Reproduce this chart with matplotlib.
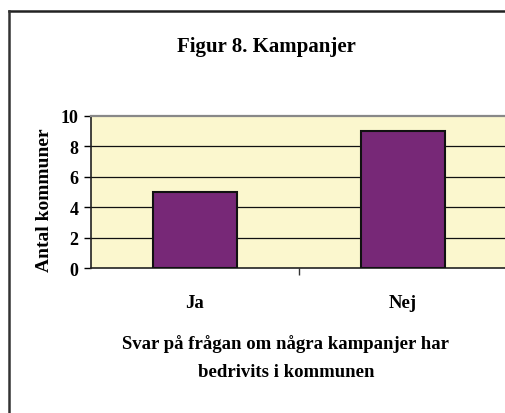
import matplotlib
matplotlib.use('Agg')
import matplotlib.pyplot as plt
from matplotlib.lines import Line2D

# data
categories = ['Ja', 'Nej']
values = [5, 9]
yticks = [0, 2, 4, 6, 8, 10]

title = 'Figur 8. Kampanjer'
ylabel = 'Antal kommuner'
xlabel = 'Svar på frågan om några kampanjer har\nbedrivits i kommunen'

plt.rcParams['font.family'] = ['Liberation Serif', 'DejaVu Serif']
plt.rcParams['font.weight'] = 'bold'

W, H = 506, 414
fig = plt.figure(figsize=(W / 100, H / 100), dpi=100)
fig.patch.set_facecolor('white')

# outer chart frame (top and left edges visible)
fig.add_artist(Line2D([9.5 / W, 1.0], [1 - 12 / H, 1 - 12 / H], transform=fig.transFigure,
                      color='#222222', lw=1.8))
fig.add_artist(Line2D([9.5 / W, 9.5 / W], [0, 1 - 12 / H], transform=fig.transFigure,
                      color='#333333', lw=1.8))

# plot area
ax = fig.add_axes([91 / W, 1 - 269 / H, 416 / W, 152 / H])
ax.set_facecolor('#FBF7CE')

x = list(range(len(categories)))
ax.bar(x, values, width=0.40, color='#772877', edgecolor='#111111', linewidth=1.5, zorder=3)

ax.set_xlim(-0.5, len(categories) - 0.5)
ax.set_ylim(0, 10)
ax.set_yticks(yticks)
ax.set_yticklabels([str(v) for v in yticks], fontsize=13, fontweight='bold')
for v in yticks[1:-1]:
    ax.axhline(v, color='#111111', lw=0.9, zorder=1)

ax.set_xticks(x)
ax.set_xticklabels(categories, fontsize=13.5, fontweight='bold')
ax.set_xticks([i + 0.5 for i in x[:-1]], minor=True)
ax.tick_params(axis='x', which='major', length=0, pad=19)
ax.tick_params(axis='x', which='minor', length=5, width=1, color='#333333', direction='out')
ax.tick_params(axis='y', length=5, width=1, direction='out', pad=4)

for side in ['left', 'bottom']:
    ax.spines[side].set_color('#222222')
    ax.spines[side].set_linewidth(1.2)
ax.spines['top'].set_color('#888888')
ax.spines['top'].set_linewidth(1.6)
ax.spines['right'].set_visible(False)

fig.text(266 / W, 1 - 47 / H, title, ha='center', va='center', fontsize=15, fontweight='bold')
fig.text(45 / W, 1 - 200 / H, ylabel, ha='center', va='center', rotation=90,
         fontsize=14, fontweight='bold')
fig.text(286 / W, 1 - 358 / H, xlabel, ha='center', va='center', fontsize=13.5,
         fontweight='bold', linespacing=1.8)

fig.savefig('out.png', dpi=100)
